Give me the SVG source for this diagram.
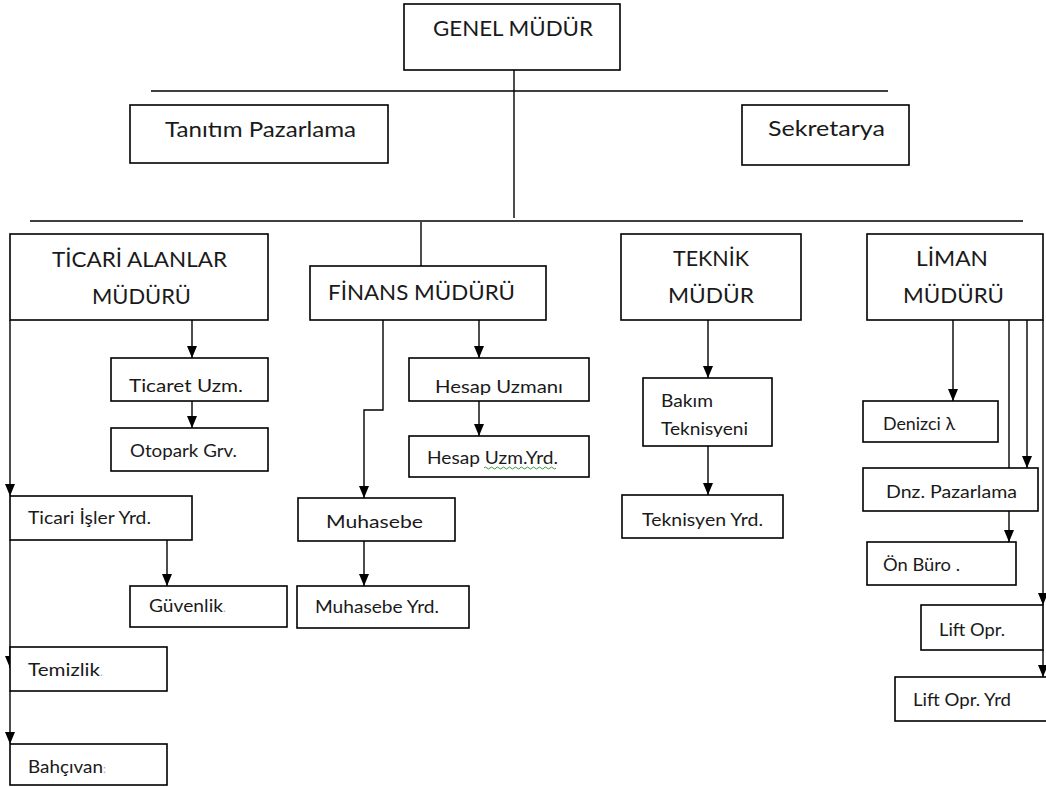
<svg xmlns="http://www.w3.org/2000/svg" width="1046" height="787" viewBox="0 0 1046 787">
<style>
.box{fill:#fff;stroke:#000;stroke-width:1.6}
.ln{fill:none;stroke:#000;stroke-width:1.4}
.ar{fill:none;stroke:#000;stroke-width:1.4;marker-end:url(#arr)}
.h{font-family:Lato,"Open Sans",sans-serif;font-size:22px;fill:#1a1a1a}
.s{font-family:Lato,"Open Sans",sans-serif;font-size:18px;fill:#1a1a1a}
.f{fill:#aaa}
</style>
<defs>
<marker id="arr" viewBox="0 0 12 10" refX="12" refY="5" markerWidth="12" markerHeight="10" markerUnits="userSpaceOnUse" orient="auto">
<path d="M0,0 L12,5 L0,10 z" fill="#000"/>
</marker>
<clipPath id="c1"><rect x="400" y="350" width="200" height="45"/></clipPath>
<clipPath id="c2"><rect x="640" y="415" width="140" height="22"/></clipPath>
</defs>
<rect width="1046" height="787" fill="#fff"/>
<g id="connectors">
<path class="ln" d="M514,70 V218"/>
<path class="ln" d="M151,91 H888"/>
<path class="ln" d="M30,221 H1023"/>
<path class="ln" d="M421,222 V266"/>
<path class="ar" d="M192,320 V358"/>
<path class="ar" d="M192,401 V428"/>
<path class="ar" d="M10,320 V496"/>
<path class="ar" d="M10,540 V668"/>
<path class="ar" d="M10,691 V744"/>
<path class="ar" d="M167,538 V586"/>
<path class="ar" d="M383,320 V410 H364 V498"/>
<path class="ar" d="M364,541 V586"/>
<path class="ar" d="M479,320 V358"/>
<path class="ar" d="M479,401 V436"/>
<path class="ar" d="M708,320 V378"/>
<path class="ar" d="M708,446 V495"/>
<path class="ar" d="M953,320 V401"/>
<path class="ar" d="M1027,320 V468"/>
<path class="ar" d="M1009,320 V542"/>
<path class="ar" d="M1043,320 V605"/>
<path class="ar" d="M1043,650 V677"/>
</g>
<g id="genel-mudur"><rect class="box" x="404" y="4" width="216" height="66"/><text class="h" x="433" y="36" textLength="160" lengthAdjust="spacingAndGlyphs">GENEL MÜDÜR</text></g>
<g id="tanitim-pazarlama"><rect class="box" x="130" y="105" width="258" height="58"/><text class="h" x="165" y="137" textLength="191" lengthAdjust="spacingAndGlyphs">Tanıtım Pazarlama</text></g>
<g id="sekretarya"><rect class="box" x="742" y="105" width="167" height="60"/><text class="h" x="768" y="136" textLength="117" lengthAdjust="spacingAndGlyphs">Sekretarya</text></g>
<g id="ticari-alanlar-muduru"><rect class="box" x="10" y="234" width="258" height="86"/><text class="h" x="52" y="267" textLength="175" lengthAdjust="spacingAndGlyphs">TİCARİ ALANLAR</text><text class="h" x="92" y="304" textLength="99" lengthAdjust="spacingAndGlyphs">MÜDÜRÜ</text></g>
<g id="finans-muduru"><rect class="box" x="310" y="266" width="236" height="54"/><text class="h" x="328" y="300" textLength="187" lengthAdjust="spacingAndGlyphs">FİNANS MÜDÜRÜ</text></g>
<g id="teknik-mudur"><rect class="box" x="621" y="234" width="180" height="86"/><text class="h" x="673" y="266" textLength="76" lengthAdjust="spacingAndGlyphs">TEKNİK</text><text class="h" x="668" y="303" textLength="86" lengthAdjust="spacingAndGlyphs">MÜDÜR</text></g>
<g id="liman-muduru"><rect class="box" x="867" y="234" width="176" height="86"/><text class="h" x="916" y="266" textLength="72" lengthAdjust="spacingAndGlyphs">LİMAN</text><text class="h" x="903" y="303" textLength="101" lengthAdjust="spacingAndGlyphs">MÜDÜRÜ</text></g>
<g id="ticaret-uzm"><rect class="box" x="111" y="358" width="157" height="43"/><text class="s" x="129" y="392" textLength="114" lengthAdjust="spacingAndGlyphs">Ticaret Uzm.</text></g>
<g id="otopark-grv"><rect class="box" x="111" y="428" width="157" height="43"/><text class="s" x="130" y="457" textLength="107" lengthAdjust="spacingAndGlyphs">Otopark Grv.</text></g>
<g id="ticari-isler-yrd"><rect class="box" x="10" y="496" width="182" height="44"/><text class="s" x="28" y="524" textLength="123" lengthAdjust="spacingAndGlyphs">Ticari İşler Yrd.</text></g>
<g id="guvenlik"><rect class="box" x="130" y="586" width="157" height="41"/><text class="s" x="149" y="612"><tspan textLength="74" lengthAdjust="spacingAndGlyphs">Güvenlik</tspan><tspan class="f" font-size="12">.</tspan></text></g>
<g id="temizlik"><rect class="box" x="10" y="647" width="157" height="44"/><text class="s" x="28" y="676"><tspan textLength="72" lengthAdjust="spacingAndGlyphs">Temizlik</tspan><tspan class="f" font-size="12">.</tspan></text></g>
<g id="bahcivan"><rect class="box" x="10" y="744" width="157" height="41"/><text class="s" x="28" y="773"><tspan textLength="75" lengthAdjust="spacingAndGlyphs">Bahçıvan</tspan><tspan class="f" font-size="12">:</tspan></text></g>
<g id="hesap-uzmani"><rect class="box" x="409" y="358" width="180" height="43"/><text class="s" x="435" y="393" textLength="128" lengthAdjust="spacingAndGlyphs" clip-path="url(#c1)">Hesap Uzmanı</text></g>
<g id="hesap-uzm-yrd"><rect class="box" x="409" y="436" width="180" height="41"/><text class="s" x="427" y="464" textLength="131" lengthAdjust="spacingAndGlyphs">Hesap Uzm.Yrd.</text><path d="M484,468 q1.5,-2 3,0 t3,0 t3,0 t3,0 t3,0 t3,0 t3,0 t3,0 t3,0 t3,0 t3,0 t3,0 t3,0 t3,0 t3,0 t3,0 t3,0 t3,0 t3,0 t3,0 t3,0 t3,0 t3,0 t3,0" fill="none" stroke="#3c9a3c" stroke-width="1"/></g>
<g id="muhasebe"><rect class="box" x="298" y="498" width="157" height="43"/><text class="s" x="326" y="528" textLength="97" lengthAdjust="spacingAndGlyphs">Muhasebe</text></g>
<g id="muhasebe-yrd"><rect class="box" x="297" y="586" width="172" height="42"/><text class="s" x="315" y="613" textLength="124" lengthAdjust="spacingAndGlyphs">Muhasebe Yrd.</text></g>
<g id="bakim-teknisyeni"><rect class="box" x="643" y="378" width="129" height="68"/><text class="s" x="661" y="407" textLength="52" lengthAdjust="spacingAndGlyphs">Bakım</text><text class="s" x="661" y="435" textLength="87" lengthAdjust="spacingAndGlyphs" clip-path="url(#c2)">Teknisyeni</text></g>
<g id="teknisyen-yrd"><rect class="box" x="622" y="495" width="161" height="43"/><text class="s" x="642" y="526" textLength="121" lengthAdjust="spacingAndGlyphs">Teknisyen Yrd.</text></g>
<g id="denizci"><rect class="box" x="863" y="401" width="135" height="41"/><text class="s" x="883" y="430" textLength="72" lengthAdjust="spacingAndGlyphs">Denizci λ</text></g>
<g id="dnz-pazarlama"><rect class="box" x="863" y="468" width="175" height="43"/><text class="s" x="886" y="498" textLength="131" lengthAdjust="spacingAndGlyphs">Dnz. Pazarlama</text></g>
<g id="on-buro"><rect class="box" x="867" y="542" width="149" height="43"/><text class="s" x="883" y="571" textLength="77" lengthAdjust="spacingAndGlyphs">Ön Büro .</text></g>
<g id="lift-opr"><rect class="box" x="921" y="605" width="122" height="45"/><text class="s" x="939" y="636" textLength="66" lengthAdjust="spacingAndGlyphs">Lift Opr.</text></g>
<g id="lift-opr-yrd"><rect class="box" x="895" y="677" width="160" height="44"/><text class="s" x="913" y="706" textLength="98" lengthAdjust="spacingAndGlyphs">Lift Opr. Yrd</text></g>
</svg>
